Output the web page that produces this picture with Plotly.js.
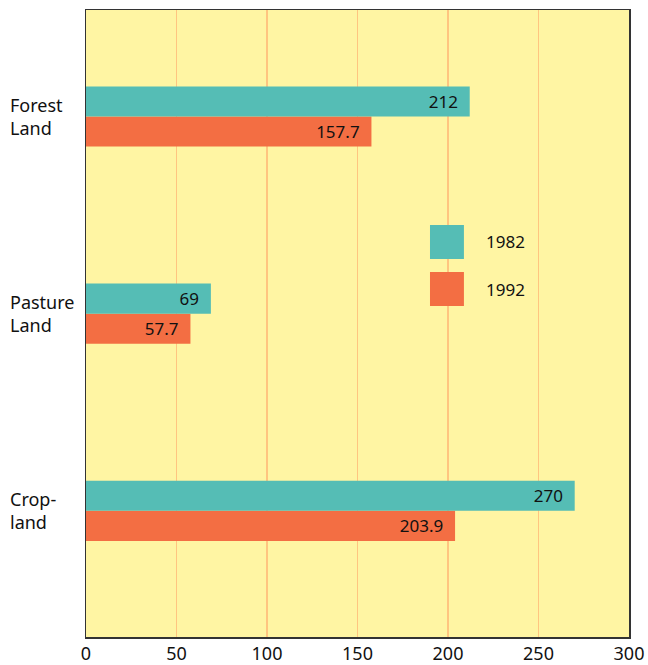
<!DOCTYPE html>
<html><head><meta charset="utf-8">
<script src="https://cdn.plot.ly/plotly-3.0.1.min.js"></script>
<style>html,body{margin:0;padding:0;background:#fff}#chart{width:648px;height:665px}</style>
</head><body><div id="chart"></div>
<script>
const categories = ['Crop-land', 'Pasture Land', 'Forest Land'];
const categoryLabels = ['Crop-<br>land', 'Pasture<br>Land', 'Forest<br>Land'];
const seriesNames = ['1982', '1992'];
const values1982 = [270, 69, 212];
const values1992 = [203.9, 57.7, 157.7];
const seriesColors = ['#55BDB5', '#F36E43'];
const xTicks = [0, 50, 100, 150, 200, 250, 300];

const font = 'Noto Sans, Open Sans, sans-serif';
const mk = (name, vals, color) => ({
  type: 'bar', orientation: 'h', name: name,
  y: categories, x: vals,
  marker: {color: color, line: {width: 0}},
  text: vals.map(v => String(v) + '\u00a0\u00a0'),
  textposition: 'inside', insidetextanchor: 'end',
  textfont: {family: font, size: 17, color: '#111'},
  constraintext: 'none', cliponaxis: false, hoverinfo: 'skip'
});
// 1992 first so 1982 sits above it in each horizontal group
const data = [mk(seriesNames[1], values1992, seriesColors[1]), mk(seriesNames[0], values1982, seriesColors[0])];

const annotations = categories.map((c, i) => ({
  xref: 'paper', yref: 'y', x: -0.143, y: c, xanchor: 'left', yanchor: 'middle',
  text: categoryLabels[i], showarrow: false, align: 'left',
  font: {family: font, size: 18, color: '#111'}
}));
const shapes = [];
const legY = [[0.603, 0.657], [0.528, 0.582]];
seriesNames.forEach((n, i) => {
  shapes.push({type: 'rect', xref: 'paper', yref: 'paper', x0: 0.6335, x1: 0.696,
    y0: legY[i][0], y1: legY[i][1], fillcolor: seriesColors[i], line: {width: 0}});
  annotations.push({xref: 'paper', yref: 'paper', x: 0.733, y: (legY[i][0] + legY[i][1]) / 2,
    xanchor: 'left', yanchor: 'middle', text: n, showarrow: false,
    font: {family: font, size: 17, color: '#111'}});
});

const layout = {
  width: 648, height: 665,
  margin: {l: 86, r: 19, t: 10, b: 28},
  paper_bgcolor: '#ffffff', plot_bgcolor: '#FFF5A3',
  barmode: 'group', bargap: 0.695, bargroupgap: 0,
  showlegend: false,
  xaxis: {range: [0, 300], tickvals: xTicks, ticktext: xTicks.map(String),
    showgrid: true, gridcolor: '#FFC580', gridwidth: 1.5, zeroline: false,
    showline: true, mirror: true, linecolor: '#333', linewidth: 1.5,
    ticks: '', tickfont: {family: font, size: 18, color: '#111'}, fixedrange: true},
  yaxis: {type: 'category', categoryorder: 'array', categoryarray: categories,
    range: [-0.64, 2.54], showticklabels: false, showgrid: false, zeroline: false,
    showline: true, mirror: true, linecolor: '#333', linewidth: 1.5, ticks: '', fixedrange: true},
  annotations: annotations, shapes: shapes
};
Plotly.newPlot('chart', data, layout, {displayModeBar: false, staticPlot: true});
</script></body></html>
